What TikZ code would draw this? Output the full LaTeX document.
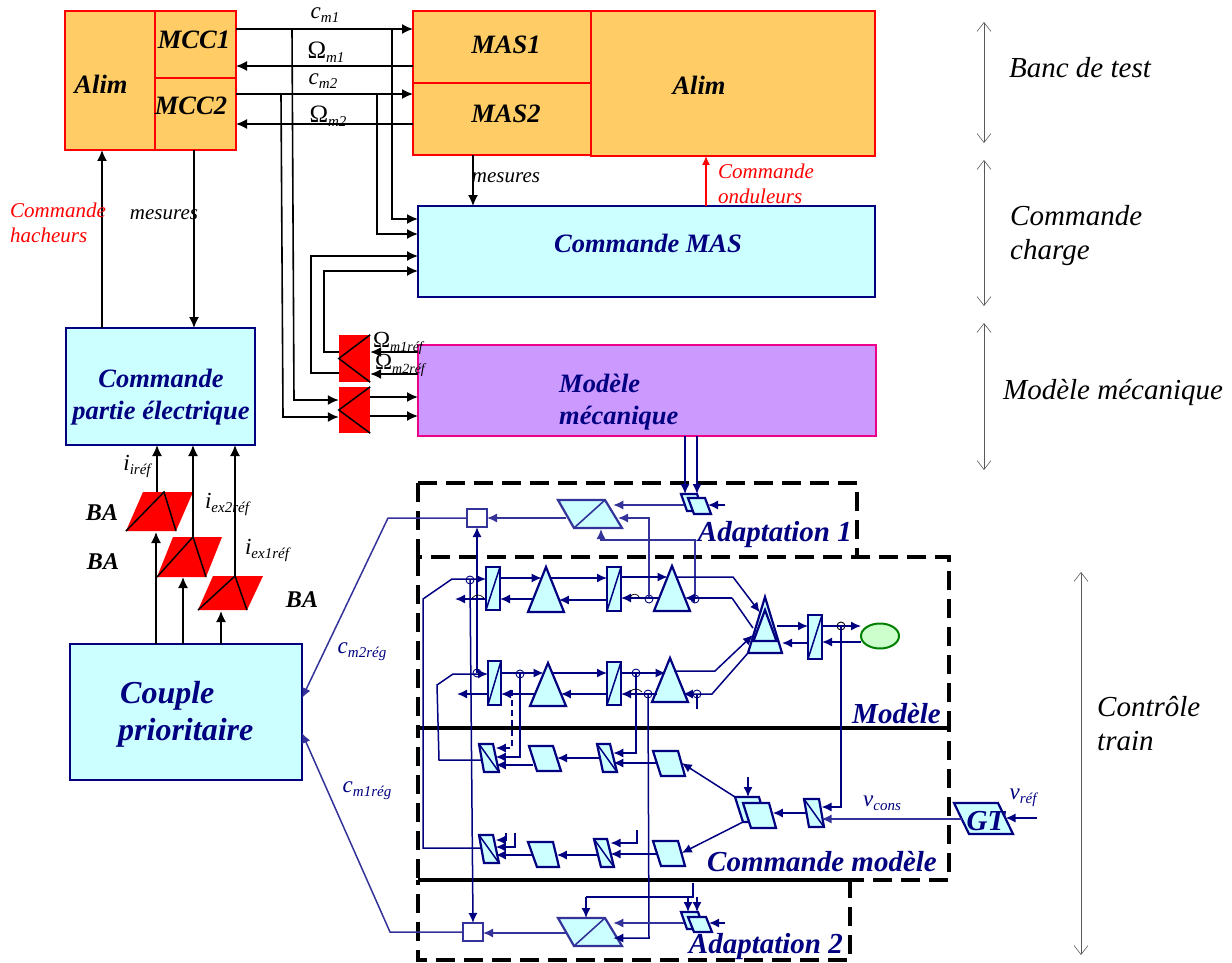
\documentclass[tikz,border=0pt]{standalone}
\usepackage{fontspec}
\setmainfont{Liberation Serif}
\usetikzlibrary{arrows.meta,calc,shapes.geometric}
\definecolor{nav}{HTML}{000080}
\definecolor{navL}{HTML}{33339A}
\definecolor{cy}{HTML}{CCFFFF}
\definecolor{org}{HTML}{FFCC66}
\definecolor{vio}{HTML}{CC99FF}
\definecolor{grn}{HTML}{CCFFCC}
\definecolor{dgrn}{HTML}{008000}
\tikzset{
  redbox/.style={draw=red,fill=org,line width=2.5pt,inner sep=0,outer sep=0},
  cybox/.style={draw=nav,fill=cy,line width=2.4pt,inner sep=0,outer sep=0},
  viobox/.style={draw=magenta,fill=vio,line width=2.5pt,inner sep=0,outer sep=0},
  blk/.style={draw=nav,fill=cy,line width=2.2pt,line join=miter},
  blkL/.style={draw=navL,fill=cy,line width=2.2pt,line join=miter},
  blkT/.style={draw=nav,fill=cy,line width=2.2pt},
  redp/.style={fill=red,draw=none},
  kline/.style={draw=black,line width=1.5pt},
  wk/.style={draw=black,line width=1.6pt,-{Latex[length=11pt,width=10pt]}},
  wr/.style={draw=red,line width=1.4pt,-{Latex[length=9pt,width=8pt]}},
  wn/.style={draw=nav,line width=1.5pt,-{Latex[length=10pt,width=9pt]}},
  wnp/.style={draw=nav,line width=1.5pt},
  wl/.style={draw=navL,line width=1.5pt,-{Latex[length=10pt,width=9pt]}},
  wnd/.style={draw=nav,line width=1.5pt,dash pattern=on 6pt off 4pt},
  dbl/.style={draw=black!65,line width=.9pt,{Straight Barb[length=9pt,width=14pt,line width=.6pt]}-{Straight Barb[length=9pt,width=14pt,line width=.6pt]}},
  port/.style={circle,draw=nav,line width=.9pt,minimum size=8pt,inner sep=0,outer sep=0},
  jump/.style={draw=black,line width=.7pt},
  dbox/.style={draw=black,line width=3.8pt,dash pattern=on 19pt off 9pt},
  sbar/.style={draw=black,line width=3.8pt},
  ttl/.style={font=\fontsize{26.5}{30}\selectfont\bfseries\itshape,text=black,align=center,inner sep=0},
  ttn/.style={font=\fontsize{26.5}{32}\selectfont\bfseries\itshape,text=nav,align=center,inner sep=0},
  sect/.style={font=\fontsize{29}{32}\selectfont\bfseries\itshape,text=nav,inner sep=0},
  side/.style={font=\fontsize{29}{34}\selectfont\itshape,text=black,align=left,inner sep=0},
  redt/.style={font=\fontsize{21}{25}\selectfont\itshape,text=red,align=left,inner sep=0},
  smt/.style={font=\fontsize{21}{24}\selectfont\itshape,text=black,inner sep=0},
  sy/.style={text=black,inner sep=0},
  syn/.style={text=nav,inner sep=0},
  ba/.style={font=\fontsize{24}{24}\selectfont\bfseries\itshape,text=black,inner sep=0}
}
\newcommand\symI[2]{{\fontsize{23}{23}\selectfont\itshape #1}\raisebox{-4pt}{\fontsize{15}{15}\selectfont\itshape #2}}
\newcommand\symU[2]{{\fontsize{25}{25}\selectfont #1}\raisebox{-4pt}{\fontsize{15}{15}\selectfont\itshape #2}}
\newcommand\symV[2]{{\fontsize{23}{23}\selectfont #1}\raisebox{-4pt}{\fontsize{14}{14}\selectfont\itshape #2}}
% rectangular block: style, name, x0, y0, x1, y1
\newcommand\rbox[6]{\node[#1,minimum width={(#5-#3)*1pt},minimum height={(#6-#4)*1pt}] (#2) at ({(#3+#5)/2},{(#4+#6)/2}) {};}
% quadrilateral with horizontal top and bottom: style,name,xTL,xTR,xBR,xBL,yT,yB
\newcommand\pgram[8]{%
  \node[inner sep=0,outer sep=0,minimum width={(#4-#3)*1pt},minimum height={(#8-#7)*1pt}] (#2) at ({(#3+#4+#5+#6)/4},{(#7+#8)/2}) {};
  \coordinate (#2-tl) at (#3,#7); \coordinate (#2-tr) at (#4,#7);
  \coordinate (#2-br) at (#5,#8); \coordinate (#2-bl) at (#6,#8);
  \path[#1] (#2-tl) -- (#2-tr) -- (#2-br) -- (#2-bl) -- cycle;}
% triangle: style,name,apex x,apex y,half width,base y
\newcommand\tria[6]{%
  \node[inner sep=0,outer sep=0,minimum width={2*#5*1pt},minimum height={(#6-#4)*1pt}] (#2) at (#3,{(#4+#6)/2}) {};
  \path[#1] (#2.south west) -- (#2.north) -- (#2.south east) -- cycle;
  \coordinate (#2-ul) at ($(#2.north)!.24!(#2.south west)$);
  \coordinate (#2-ur) at ($(#2.north)!.24!(#2.south east)$);
  \coordinate (#2-ll) at ($(#2.north)!.71!(#2.south west)$);
  \coordinate (#2-lr) at ($(#2.north)!.71!(#2.south east)$);}
\begin{document}
\begin{tikzpicture}[x=1pt,y=-1pt]
\useasboundingbox (0,0) rectangle (1232,963);
% ---- top blocks
\rbox{redbox}{alimL}{65}{11}{155}{150}
\rbox{redbox}{mcc1}{155}{11}{236}{78}
\rbox{redbox}{mcc2}{155}{78}{236}{150}
\rbox{redbox}{mas1}{413}{11}{591}{83}
\rbox{redbox}{mas2}{413}{83}{591}{155}
\rbox{redbox}{alimR}{591}{11}{875}{156}
\rbox{cybox}{cmas}{418}{206}{875}{297}
\rbox{viobox}{mmec}{418}{345}{876}{436}
\rbox{cybox}{cpe}{66}{328}{255}{445}
\rbox{cybox}{coup}{70}{644}{302}{780}
% ---- red blocks
\rbox{redp}{rk1}{339}{335}{370}{382}
\rbox{redp}{rk2}{339}{387}{370}{433}
\draw[kline] (rk1.north east) -- (rk1.west) -- (rk1.south east);
\draw[kline] (rk2.north east) -- (rk2.west) -- (rk2.south east);
\pgram{redp}{ba1}{143}{193}{176}{126}{492}{531}
\pgram{redp}{ba2}{173}{222}{206}{157}{537}{577}
\pgram{redp}{ba3}{213}{263}{247}{198}{576}{610}
\coordinate (ba1p) at (164,492); \coordinate (ba2p) at (193,537); \coordinate (ba3p) at (235,576);
\draw[kline] (ba1-bl) -- (ba1p) -- (ba1-br);
\draw[kline] (ba2-bl) -- (ba2p) -- (ba2-br);
\draw[kline] (ba3-bl) -- (ba3p) -- (ba3-br);
% ---- black wires
\draw[wk] (mcc1.east |- 0,29) -- (mas1.west |- 0,29);
\draw[wk] (mas1.west |- 0,66) -- (mcc1.east |- 0,66);
\draw[wk] (mcc2.east |- 0,94) -- (mas2.west |- 0,94);
\draw[wk] (mas2.west |- 0,124) -- (mcc2.east |- 0,124);
\draw[wk] (292,29) -- (294,400) -- (rk2.west |- 0,400);
\draw[wk] (281,94) -- (283,417) -- (rk2.west |- 0,417);
\draw[wk] (392,29) -- (392,219) -- (cmas.west |- 0,219);
\draw[wk] (377,94) -- (377,234) -- (cmas.west |- 0,234);
\draw[wk] (rk1.west |- 0,352) -- (324,352) -- (324,271) -- (cmas.west |- 0,271);
\draw[wk] (rk1.west |- 0,373) -- (311,373) -- (311,256) -- (cmas.west |- 0,256);
\draw[wk] (mmec.west |- 0,352) -- (rk1.east |- 0,352);
\draw[wk] (mmec.west |- 0,374) -- (rk1.east |- 0,374);
\draw[wk] (rk2.east |- 0,397) -- (mmec.west |- 0,397);
\draw[wk] (rk2.east |- 0,416) -- (mmec.west |- 0,416);
\draw[wk] (mas2.south -| 473,0) -- (cmas.north -| 473,0);
\draw[wr] (cmas.north -| 706,0) -- (alimR.south -| 706,0);
\draw[wk] (cpe.north -| 102,0) -- (alimL.south -| 102,0);
\draw[wk] (mcc2.south -| 194,0) -- (cpe.north -| 194,0);
\draw[wk] (157,492) -- (cpe.south -| 157,0);
\draw[wk] (ba2p) -- (cpe.south -| 193,0);
\draw[wk] (ba3p) -- (cpe.south -| 235,0);
\draw[wk] (coup.north -| 156,0) -- (156,532);
\draw[wk] (coup.north -| 183,0) -- (183,577);
\draw[wk] (coup.north -| 221,0) -- (221,611);
% ---- dashed frames
\draw[dbox] (418,483) -- (857,483) -- (857,557);
\draw[dbox] (418,483) -- (418,557);
\draw[dbox] (418,557) rectangle (949,728);
\draw[dbox,dash phase=9pt] (418,728) rectangle (949,880);
\draw[dbox,dash phase=14pt] (418,880) rectangle (850,960);
\draw[sbar] (418,728) -- (949,728);
\draw[sbar] (418,880) -- (850,880);
% ---- model blocks
\pgram{blkL}{ad1}{558}{605}{622}{574}{500}{528}
\draw[navL,line width=1.6pt] (ad1-bl) -- (ad1-tr);
\pgram{blkL}{ad2}{558}{605}{622}{574}{918}{946}
\draw[navL,line width=1.6pt] (ad2-bl) -- (ad2-tr);
\rbox{draw=navL,line width=1.6pt,fill=white,inner sep=0,outer sep=0}{sq1}{467}{509}{487}{527}
\rbox{draw=navL,line width=1.6pt,fill=white,inner sep=0,outer sep=0}{sq2}{463}{923}{483}{941}
\pgram{blk}{sa1}{681}{697}{703}{687}{494}{511}
\pgram{blk}{sb1}{688}{705}{711}{694}{498}{514}
\pgram{blk}{sa2}{681}{698}{704}{687}{912}{929}
\pgram{blk}{sb2}{688}{706}{712}{694}{917}{932}
\pgram{blk}{c1}{486}{500}{500}{486}{567}{610}
\draw[wnp] (c1-bl) -- (c1-tr);
\pgram{blk}{c2}{607}{621}{621}{607}{567}{611}
\draw[wnp] (c2-bl) -- (c2-tr);
\pgram{blk}{c3}{488}{501}{501}{488}{661}{705}
\draw[wnp] (c3-bl) -- (c3-tr);
\pgram{blk}{c4}{607}{621}{621}{607}{662}{705}
\draw[wnp] (c4-bl) -- (c4-tr);
\pgram{blk}{c5}{808}{822}{822}{808}{615}{659}
\draw[wnp] (c5-bl) -- (c5-tr);
\tria{blkT}{t1}{546}{567}{18}{612}
\tria{blkT}{t2}{672}{566}{18}{611}
\tria{blkT}{t3}{548}{663}{18}{706}
\tria{blkT}{t4}{670}{658}{18}{702}
\tria{blkT}{bgB}{765}{597}{17}{653}
\tria{blkT}{bgA}{765}{610}{11.5}{641}
\node[ellipse,inner sep=0,outer sep=0,draw=dgrn,fill=grn,line width=2pt,minimum width=38pt,minimum height=25pt] (gr) at (880,636) {};
\pgram{blk}{d1}{479}{493}{499}{484}{744}{772}
\draw[wnp] (d1-tl) -- (d1-br);
\pgram{blk}{d2}{529}{553}{561}{537}{746}{771}
\pgram{blk}{d3}{597}{610}{617}{603}{744}{772}
\draw[wnp] (d3-tl) -- (d3-br);
\pgram{blk}{d4}{653}{678}{685}{661}{751}{776}
\pgram{blk}{e1}{479}{493}{499}{484}{835}{863}
\draw[wnp] (e1-tl) -- (e1-br);
\pgram{blk}{e2}{528}{553}{559}{537}{842}{867}
\pgram{blk}{e3}{594}{607}{614}{601}{839}{867}
\draw[wnp] (e3-tl) -- (e3-br);
\pgram{blk}{e4}{653}{678}{685}{661}{841}{866}
\pgram{blk}{fa}{735}{759}{766}{743}{797}{822}
\pgram{blk}{fb}{743}{769}{776}{751}{803}{828}
\pgram{blk}{g}{804}{819}{824}{809}{799}{827}
\draw[wnp] (g-tl) -- (g-br);
\pgram{blk}{gt}{954}{998}{1013}{969}{803}{834}
% ---- ports
\node[port] (p1) at (470,580) {};
\node[port] (p2) at (477,673) {};
\node[port] (p3) at (520,674) {};
\node[port] (p4) at (649,599) {};
\node[port] (p5) at (695,599) {};
\node[port] (p6) at (636,673) {};
\node[port] (p7) at (648,694) {};
\node[port] (p8) at (697,694) {};
\node[port,draw=black] (p9) at (841,626) {};
% ---- navy wires, row 1
\draw[wn] (mmec.south -| 685,0) -- (sa1.north -| 685,0);
\draw[wn] (mmec.south -| 697,0) -- (sa1.north -| 697,0);
\draw[wn] (725,505) -- (sb1.east |- 0,505);
\draw[wl] (sa1.west |- 0,505) -- (ad1.east |- 0,505);
\draw[wl] (p4.center) -- (649,518) -- (618,518);
\draw[wl] (p5.center) -- (695,540) -- (601,540) -- (601,529);
\draw[wl] (ad1.west |- 0,518) -- (sq1.east |- 0,518);
\draw[wl] (sq1.west |- 0,518) -- (388,518) -- (coup.east |- 0,698);
\draw[wn] (p2.center) -- (sq1.south -| 477,0);
\draw[wn] (p1.center) -- (sq2.north -| 473,0);
\draw[wn] (e1.west |- 0,848) -- (423,848) -- (423,599) -- (452,579) -- (c1.west |- 0,579);
\draw[wn] (d1.west |- 0,760) -- (439,760) -- (437,685) -- (453,674) -- (c3.west |- 0,674);
\draw[wn] (c1.west |- 0,599) -- (455,599);
\draw[wn] (c3.west |- 0,694) -- (457,694);
\draw[wn] (c1.east |- 0,578) -- (t1-ul |- 0,578);
\draw[wn] (t1-ll |- 0,599) -- (c1.east |- 0,599);
\draw[wn] (t1-ur |- 0,578) -- (c2.west |- 0,578);
\draw[wn] (c2.west |- 0,600) -- (t1-lr |- 0,600);
\draw[wn] (c2.east |- 0,577) -- (t2-ul |- 0,577);
\draw[wn] (t2-ll |- 0,598) -- (c2.east |- 0,598);
\path (bgB-ul) ++(-1,2) coordinate (bgIn);
\draw[wn] (t2-ur |- 0,577) -- (733,577) -- (bgIn);
\draw[wnp] (bgB-ll |- 0,628) -- (732,598);
\draw[wn] (732,598) -- (t2-lr |- 0,598);
% ---- row 2
\draw[wn] (c3.east |- 0,673) -- (t3-ul |- 0,673);
\draw[wn] (t3-ll |- 0,694) -- (c3.east |- 0,694);
\draw[wn] (t3-ur |- 0,673) -- (c4.west |- 0,673);
\draw[wn] (c4.west |- 0,694) -- (t3-lr |- 0,694);
\draw[wn] (c4.east |- 0,673) -- (t4-ul |- 0,673);
\draw[wn] (t4-ll |- 0,694) -- (c4.east |- 0,694);
\draw[wn] (t4-ur |- 0,671) -- (715,671) -- (bgB-ll |- 0,635);
\draw[wn] (bgB.south west) -- (712,694) -- (t4-lr |- 0,694);
\draw[wnp] (p8.center) -- (697,709);
% ---- big triangle / last converter
\draw[wn] (bgB-lr |- 0,626) -- (c5.west |- 0,626);
\draw[wn] (c5.west |- 0,643) -- (bgB.east |- 0,643);
\draw[wn] (c5.east |- 0,626) -- (gr.west |- 0,626);
\draw[wn] (gr.west |- 0,642) -- (c5.east |- 0,642);
\draw[wn] (p9.center) -- (841,807) -- (g.east |- 0,807);
% ---- commande modele
\draw[wn] (p3.center) -- (520,757) -- (d1.east |- 0,757);
\draw[wnd,-{Latex[length=10pt,width=9pt]}] (512,690) -- (512,748) -- (d1.east |- 0,748);
\draw[wn] (p6.center) -- (636,753) -- (d3.east |- 0,753);
\draw[wn] (p7.center) -- (649,938) -- (ad2.east |- 0,938);
\draw[wn] (637,830) -- (637,843) -- (e3.east |- 0,843);
\draw[wn] (515,833) -- (515,847) -- (e1.east |- 0,847);
\draw[wn] (506,833) -- (506,840) -- (e1.east |- 0,840);
\draw[wn] (d4.west |- 0,763) -- (d3.east |- 0,763);
\draw[wn] (d3.west |- 0,758) -- (d2.east |- 0,758);
\draw[wn] (d2.west |- 0,765) -- (d1.east |- 0,765);
\draw[wn] (e4.west |- 0,854) -- (e3.east |- 0,854);
\draw[wn] (e3.west |- 0,855) -- (e2.east |- 0,855);
\draw[wn] (e2.west |- 0,855) -- (e1.east |- 0,855);
\draw[wn] (fa-tl) -- (d4.east |- 0,763);
\draw[wn] (fa-bl) -- (e4.east |- 0,853);
\draw[wn] (748,777) -- (fa.north -| 748,0);
\draw[wn] (g.west |- 0,813) -- (fb.east |- 0,813);
\draw[wl] (gt.west |- 0,819) -- (g.east |- 0,819);
\draw[wn] (1037,818) -- (gt.east |- 0,818);
% ---- adaptation 2
\draw[wnp] (693,883) -- (693,897) -- (586,897);
\draw[wn] (586,897) -- (ad2.north -| 586,0);
\draw[wn] (688,897) -- (sa2.north -| 688,0);
\draw[wn] (697,897) -- (sa2.north -| 697,0);
\draw[wn] (725,923) -- (sb2.east |- 0,923);
\draw[wl] (sa2.west |- 0,923) -- (ad2.east |- 0,923);
\draw[wl] (ad2.west |- 0,933) -- (sq2.east |- 0,933);
\draw[wl] (sq2.west |- 0,932) -- (390,932) -- (coup.east |- 0,733);
% ---- small bridges
\draw[jump] (472,598) .. controls (476,594) and (480,594) .. (484,598);
\draw[jump] (630,597) .. controls (633,593) and (637,593) .. (640,598);
\draw[jump] (630,692) .. controls (633,688) and (638,688) .. (642,692);
% ---- scale arrows
\coordinate (s1a) at (984,22); \coordinate (s1b) at (984,143);
\coordinate (s2a) at (984,160); \coordinate (s2b) at (984,306);
\coordinate (s3a) at (984,323); \coordinate (s3b) at (984,470);
\coordinate (s4a) at (1081,572); \coordinate (s4b) at (1081,955);
\draw[dbl] (s1a) -- (s1b);
\draw[dbl] (s2a) -- (s2b);
\draw[dbl] (s3a) -- (s3b);
\draw[dbl] (s4a) -- (s4b);
% ---- labels
\node[ttl] (l1) at (101,84) {Alim};
\node[ttl] (l2) at (194,40) {MCC1};
\node[ttl] (l3) at (191,106) {MCC2};
\node[ttl] (l4) at (506,45) {MAS1};
\node[ttl] (l5) at (506,114) {MAS2};
\node[ttl] (l6) at (699,85) {Alim};
\node[ttn] (l7) at (648,243) {Commande MAS};
\node[ttn,align=left,anchor=west] (l8) at (559,402) {Modèle\\mécanique};
\node[ttn] (l9) at (161,397) {Commande\\partie électrique};
\node[ttn,font=\fontsize{32}{37}\selectfont\bfseries\itshape,align=left,anchor=west] (l10) at (118,714) {\hspace*{2pt}Couple\\prioritaire};
\node[sect,anchor=east] (s1) at (852,535) {Adaptation 1};
\node[sect,anchor=east] (s2) at (941,714) {Modèle};
\node[sect,anchor=east] (s3) at (937,862) {Commande modèle};
\node[sect,anchor=east] (s4) at (843,947) {Adaptation 2};
\node[ttn,font=\fontsize{29}{29}\selectfont\bfseries\itshape] (gtl) at (986,821) {GT};
\node[side] (r1) at (1080,68) {Banc de test};
\node[side,anchor=west] (r2) at (1010,236) {Commande\\charge};
\node[side] (r3) at (1113,393) {Modèle mécanique};
\node[side,anchor=west] (r4) at (1097,724) {Contrôle\\train};
\node[redt,anchor=west] (t1l) at (10,223) {Commande\\hacheurs};
\node[redt,anchor=west] (t2l) at (718,184) {Commande\\onduleurs};
\node[smt] (m1) at (164,215) {mesures};
\node[smt] (m2) at (506,178) {mesures};
\node[sy] (n1) at (325,15) {\symI{c}{m1}};
\node[sy] (n2) at (326,52) {\symU{Ω}{m1}};
\node[sy] (n3) at (323,81) {\symI{c}{m2}};
\node[sy] (n4) at (328,116) {\symU{Ω}{m2}};
\node[sy] (n5) at (398,343) {\symV{Ω}{m1réf}};
\node[sy] (n6) at (400,365) {\symV{Ω}{m2réf}};
\node[sy] (n7) at (137,466) {\symI{i}{iréf}};
\node[sy] (n8) at (227,504) {\symI{i}{ex2réf}};
\node[sy] (n9) at (267,550) {\symI{i}{ex1réf}};
\node[ba] (b1) at (102,513) {BA};
\node[ba] (b2) at (103,562) {BA};
\node[ba] (b3) at (302,600) {BA};
\node[syn] (n10) at (362,652) {\symI{c}{m2rég}};
\node[syn] (n11) at (367,791) {\symI{c}{m1rég}};
\node[syn] (n12) at (882,803) {\symI{v}{cons}};
\node[syn] (n13) at (1023,798) {\symI{v}{réf}};
\end{tikzpicture}
\end{document}
